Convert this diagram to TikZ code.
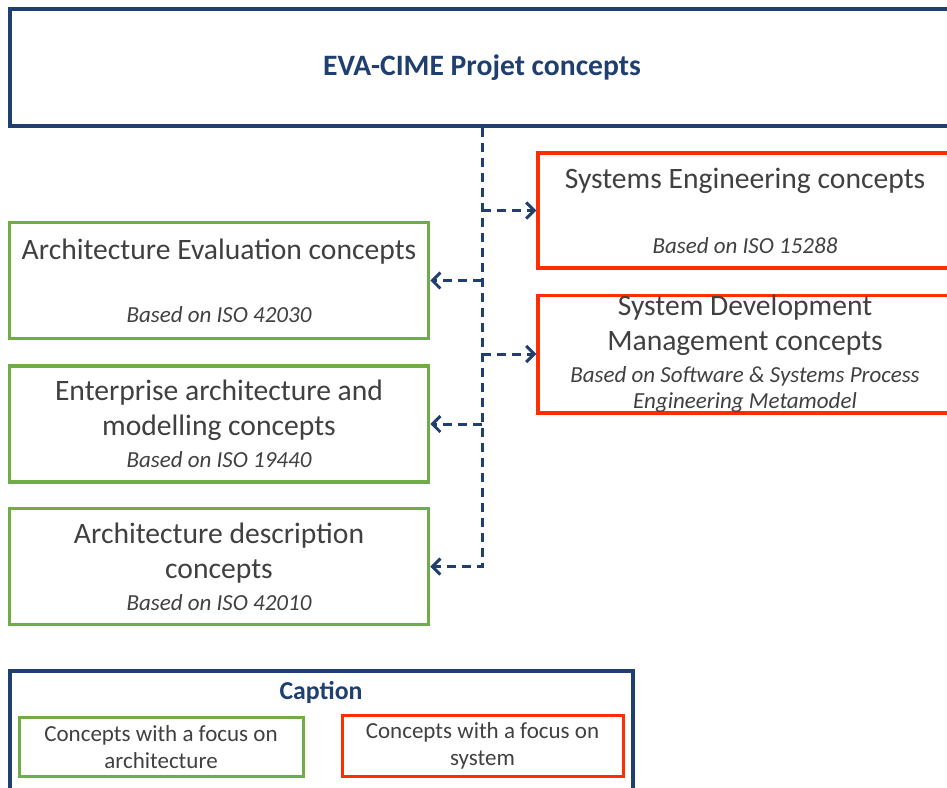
\documentclass[tikz,border=0pt]{standalone}
\usepackage{fontspec}
\setmainfont{Carlito}
\usetikzlibrary{arrows.meta}
\definecolor{evablue}{RGB}{31,63,112}
\definecolor{archgreen}{RGB}{112,173,71}
\definecolor{sysred}{RGB}{255,45,0}
\definecolor{txtgray}{RGB}{64,64,64}
\newcommand{\basedon}[1]{{\fontsize{23}{27}\selectfont\itshape #1}}

\begin{document}
\begin{tikzpicture}[x=1pt,y=-1pt,
	box/.style={line width=3.5pt,align=center,text=txtgray,inner sep=0pt,font=\fontsize{29.6}{35}\selectfont},
	archbox/.style={box,draw=archgreen,minimum width=419pt,minimum height=116pt},
	sysbox/.style={box,draw=sysred,minimum width=414pt,minimum height=115pt},
	legbox/.style={line width=3pt,align=center,text=txtgray,inner sep=0pt,font=\fontsize{23}{27}\selectfont},
	link/.style={draw=evablue,line width=3pt,dash pattern=on 9pt off 6pt}]
\useasboundingbox (0,0) rectangle (947,787);
\clip (0,0) rectangle (947,787);
\node[draw=evablue,line width=3.5pt,minimum width=944pt,minimum height=117pt,text=evablue,font=\bfseries\fontsize{29.6}{35}\selectfont] (top) at (482,67.5) {EVA-CIME Projet concepts};
\node[sysbox] (se) at (745,210.5) {Systems Engineering concepts\\[30pt]\basedon{Based on ISO 15288}};
\node[sysbox] (sdm) at (745,354) {System Development\\Management concepts\\[-3pt]\basedon{Based on Software \& Systems Process}\\[-9pt]\basedon{Engineering Metamodel}};
\node[archbox] (ae) at (219,280.5) {Architecture Evaluation concepts\\[28pt]\basedon{Based on ISO 42030}};
\node[archbox] (ea) at (219,424) {Enterprise architecture and\\modelling concepts\\[-3pt]\basedon{Based on ISO 19440}};
\node[archbox] (ad) at (219,566.5) {Architecture description\\concepts\\[-3pt]\basedon{Based on ISO 42010}};
\draw[link,-{Straight Barb[length=8pt,width=16pt]}] (top.south) |- (ad.east);
\draw[link,-{Straight Barb[length=8pt,width=16pt]}] (top.south |- se.west) -- (se.west);
\draw[link,-{Straight Barb[length=8pt,width=16pt]}] (top.south |- sdm.west) -- (sdm.west);
\draw[link,-{Straight Barb[length=8pt,width=16pt]}] (top.south |- ae.east) -- (ae.east);
\draw[link,-{Straight Barb[length=8pt,width=16pt]}] (top.south |- ea.east) -- (ea.east);
% caption
\node[draw=evablue,line width=3.5pt,minimum width=623pt,minimum height=140pt] (cap) at (321.5,741) {};
\node[text=evablue,font=\bfseries\fontsize{25.8}{30}\selectfont] (captitle) at (321,692) {Caption};
\node[legbox,draw=archgreen,minimum width=284pt,minimum height=59pt] (legarch) at (161,747) {Concepts with a focus on\\architecture};
\node[legbox,draw=sysred,minimum width=281pt,minimum height=61pt] (legsys) at (482.5,746) {Concepts with a focus on\\system};
\end{tikzpicture}
\end{document}
